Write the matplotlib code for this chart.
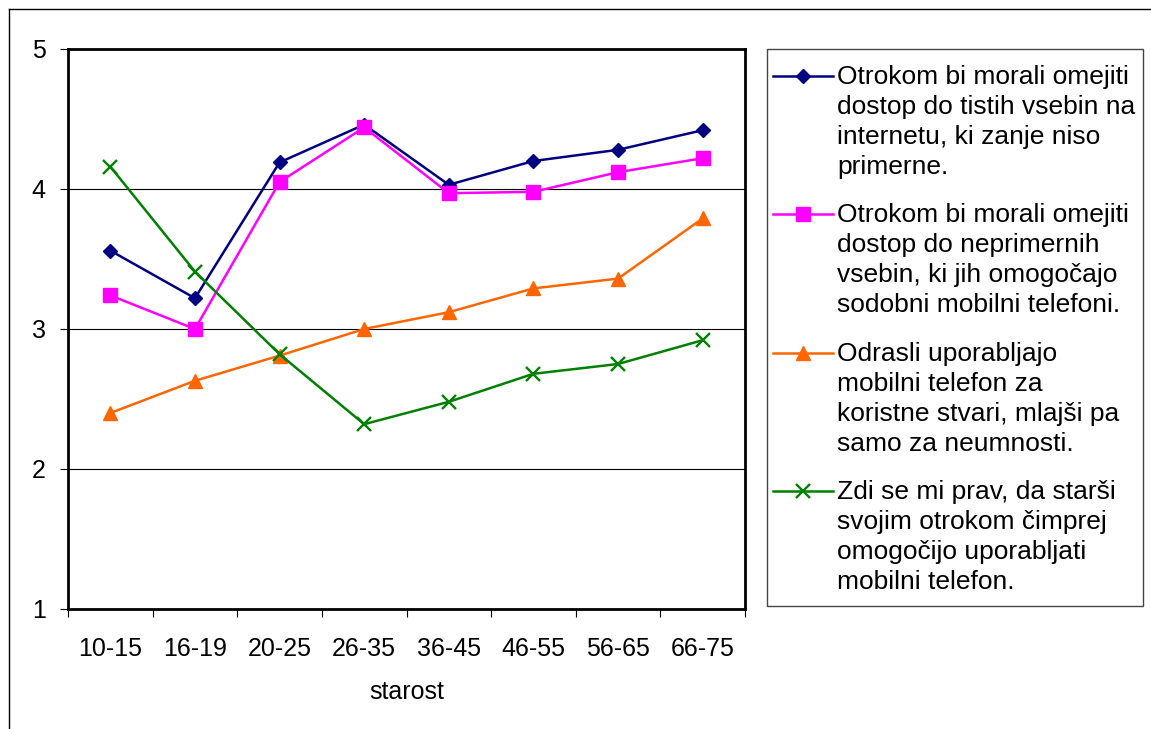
import matplotlib.pyplot as plt
from matplotlib.lines import Line2D
from matplotlib.patches import Rectangle

plt.rcParams['font.family'] = ['Liberation Sans', 'DejaVu Sans']

# age groups
ages = ["10-15", "16-19", "20-25", "26-35", "36-45", "46-55", "56-65", "66-75"]

internet = [3.56, 3.22, 4.19, 4.46, 4.03, 4.20, 4.28, 4.42]
mobile_content = [3.24, 3.00, 4.05, 4.44, 3.97, 3.98, 4.12, 4.22]
adults_useful = [2.40, 2.63, 2.81, 3.00, 3.12, 3.29, 3.36, 3.79]
early_phone = [4.16, 3.41, 2.82, 2.32, 2.48, 2.68, 2.75, 2.92]

labels = [
    "Otrokom bi morali omejiti\ndostop do tistih vsebin na\ninternetu, ki zanje niso\nprimerne.",
    "Otrokom bi morali omejiti\ndostop do neprimernih\nvsebin, ki jih omogočajo\nsodobni mobilni telefoni.",
    "Odrasli uporabljajo\nmobilni telefon za\nkoristne stvari, mlajši pa\nsamo za neumnosti.",
    "Zdi se mi prav, da starši\nsvojim otrokom čimprej\nomogočijo uporabljati\nmobilni telefon.",
]

W, H = 1151, 729
fig = plt.figure(figsize=(W / 100, H / 100), dpi=100)
ax = fig.add_axes([68 / W, 1 - 609 / H, 677 / W, 560 / H])

x = list(range(len(ages)))
styles = [
    dict(color="#000080", marker="D", ms=7.5),
    dict(color="#FF00FF", marker="s", ms=9.5),
    dict(color="#FF6600", marker="^", ms=10),
    dict(color="#008000", marker="x", ms=10, mew=1.7),
]
for vals, st in zip([internet, mobile_content, adults_useful, early_phone], styles):
    ax.plot(x, vals, lw=1.8, **st)

ax.set_xlim(-0.5, len(ages) - 0.5)
ax.set_ylim(1, 5)
ax.set_yticks([1, 2, 3, 4, 5])
ax.yaxis.grid(True, color="black", lw=0.8)
ax.set_axisbelow(True)

# boundary ticks between categories, labels centred on categories
ax.set_xticks([i - 0.5 for i in range(len(ages) + 1)])
ax.set_xticklabels([])
ax.set_xticks(x, minor=True)
ax.set_xticklabels(ages, minor=True)
ax.tick_params(axis="x", which="minor", length=0, pad=20, labelsize=18)
ax.tick_params(axis="x", which="major", length=6, width=0.8, direction="out")
ax.tick_params(axis="y", length=6, width=0.8, pad=10, labelsize=18)
ax.set_xlabel("starost", fontsize=18, labelpad=14)

for s in ax.spines.values():
    s.set_linewidth(2)
    s.set_color("black")

# legend box, handle on first line of each entry
fig.add_artist(Rectangle((767 / W, 1 - 606 / H), 376 / W, 557 / H,
                         transform=fig.transFigure, fill=False,
                         edgecolor="#444444", lw=1))
entry_y = [76, 214, 353, 491]
for lab, st, yy in zip(labels, styles, entry_y):
    yf = 1 - yy / H
    fig.add_artist(Line2D([773 / W, 833 / W], [yf, yf], lw=1.8, **st,
                          markevery=[]))
    fig.add_artist(Line2D([803 / W], [yf], lw=0, **st))
    fig.text(837 / W, 1 - (yy - 11) / H, lab, fontsize=19, va="top",
             ha="left", linespacing=1.32)

# outer chart border
fig.add_artist(Line2D([8.5 / W, 8.5 / W], [0, 1 - 8.5 / H], color="black", lw=1))
fig.add_artist(Line2D([8.5 / W, 1], [1 - 8.5 / H, 1 - 8.5 / H], color="black", lw=1))

fig.savefig("out.png", dpi=100)
